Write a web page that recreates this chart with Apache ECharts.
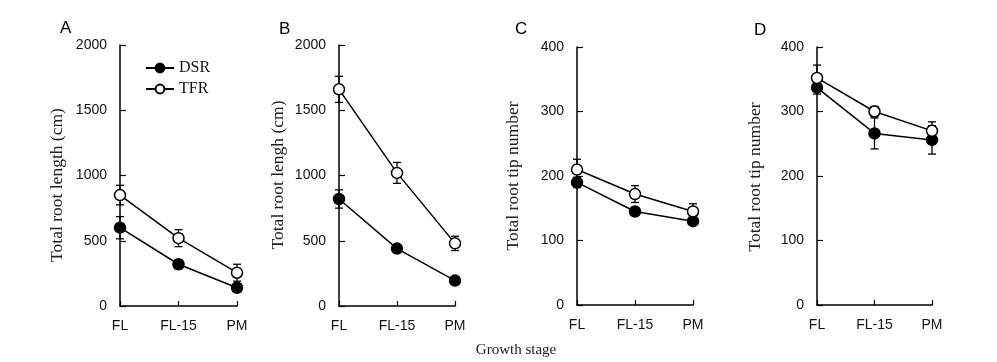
<!DOCTYPE html>
<html>
<head>
<meta charset="utf-8">
<script src="https://cdn.jsdelivr.net/npm/echarts@6/dist/echarts.min.js"></script>
<style>html,body{margin:0;padding:0;background:#fff}#c{width:997px;height:362px}</style>
</head>
<body>
<div id="c"></div>
<script>
const categories = ['FL', 'FL-15', 'PM'];
const seriesNames = ['DSR', 'TFR'];

const A_DSR = [600, 320, 140];
const A_DSR_err = [85, 35, 30];
const A_TFR = [850, 520, 255];
const A_TFR_err = [75, 65, 65];

const B_DSR = [820, 440, 195];
const B_DSR_err = [70, 30, 20];
const B_TFR = [1660, 1020, 480];
const B_TFR_err = [100, 80, 55];

const C_DSR = [190, 145, 130];
const C_DSR_err = [8, 6, 5];
const C_TFR = [210, 172, 145];
const C_TFR_err = [16, 13, 12];

const D_DSR = [337, 266, 256];
const D_DSR_err = [10, 24, 22];
const D_TFR = [352, 300, 270];
const D_TFR_err = [20, 8, 14];

const panelLetters = ['A', 'B', 'C', 'D'];
const yTitles = ['Total root length (cm)', 'Total root lengh (cm)', 'Total root tip number', 'Total root tip number'];
const yMax = [2000, 2000, 400, 400];
const yInterval = [500, 500, 100, 100];
const xTitle = 'Growth stage';

const panels = [
  {dsr: A_DSR, dsrErr: A_DSR_err, tfr: A_TFR, tfrErr: A_TFR_err},
  {dsr: B_DSR, dsrErr: B_DSR_err, tfr: B_TFR, tfrErr: B_TFR_err},
  {dsr: C_DSR, dsrErr: C_DSR_err, tfr: C_TFR, tfrErr: C_TFR_err},
  {dsr: D_DSR, dsrErr: D_DSR_err, tfr: D_TFR, tfrErr: D_TFR_err}
];

const grids = [
  {left: 120, top: 45, width: 117, height: 261},
  {left: 339, top: 45, width: 116, height: 261},
  {left: 577, top: 47, width: 116, height: 258},
  {left: 817, top: 47, width: 115, height: 258}
];
const letterPos = [[66, 29], [285, 30], [521, 30], [760, 31]];
const titlePos = [[57, 185], [278, 175], [513, 176], [755, 177]];

const chart = echarts.init(document.getElementById('c'), null, {renderer: 'canvas'});

const xAxes = [], yAxes = [], series = [], graphics = [];
const axisLineStyle = {color: '#000', width: 1.5};
const sans = 'Liberation Sans';
const serif = 'Liberation Serif';

function errRender(params, api) {
  const x = api.value(0);
  const lo = api.coord([x, api.value(1)]);
  const hi = api.coord([x, api.value(2)]);
  const cap = 4;
  const style = {stroke: '#000', lineWidth: 1.3, fill: null};
  return {
    type: 'group',
    children: [
      {type: 'line', shape: {x1: lo[0], y1: lo[1], x2: hi[0], y2: hi[1]}, style: style},
      {type: 'line', shape: {x1: lo[0] - cap, y1: lo[1], x2: lo[0] + cap, y2: lo[1]}, style: style},
      {type: 'line', shape: {x1: hi[0] - cap, y1: hi[1], x2: hi[0] + cap, y2: hi[1]}, style: style}
    ]
  };
}

panels.forEach((p, i) => {
  xAxes.push({
    gridIndex: i, type: 'category', data: categories, boundaryGap: false,
    axisLine: {lineStyle: axisLineStyle},
    axisTick: {inside: true, length: 5, lineStyle: {color: '#000', width: 1.2}},
    axisLabel: {color: '#111', fontFamily: sans, fontSize: 14, margin: 13},
    splitLine: {show: false}
  });
  yAxes.push({
    gridIndex: i, type: 'value', min: 0, max: yMax[i], interval: yInterval[i],
    axisLine: {show: true, lineStyle: axisLineStyle},
    axisTick: {show: true, inside: true, length: 6, lineStyle: {color: '#000', width: 1.2}},
    axisLabel: {color: '#111', fontFamily: sans, fontSize: 14, margin: 13, formatter: v => String(v)},
    splitLine: {show: false}
  });
  const sets = [
    {name: 'DSR', v: p.dsr, e: p.dsrErr, fill: '#000'},
    {name: 'TFR', v: p.tfr, e: p.tfrErr, fill: '#fff'}
  ];
  sets.forEach(s => {
    series.push({
      type: 'custom', xAxisIndex: i, yAxisIndex: i, silent: true, clip: false,
      renderItem: errRender, encode: {x: 0, y: [1, 2]},
      data: s.v.map((v, k) => [k, v - s.e[k], v + s.e[k]]),
      z: 2
    });
  });
  sets.forEach(s => {
    series.push({
      name: s.name, type: 'line', xAxisIndex: i, yAxisIndex: i, clip: false,
      data: s.v, symbol: 'circle', symbolSize: 11, showSymbol: true,
      lineStyle: {color: '#000', width: 1.5},
      itemStyle: {color: s.fill, borderColor: '#000', borderWidth: 1.5},
      z: 3, animation: false
    });
  });
  graphics.push({
    type: 'text', left: letterPos[i][0] - 6, top: letterPos[i][1] - 9,
    style: {text: panelLetters[i], font: '17px "Liberation Sans"', fill: '#000'}
  });
  graphics.push({
    type: 'text', x: titlePos[i][0], y: titlePos[i][1], rotation: Math.PI / 2,
    style: {text: yTitles[i], font: '17.5px "Liberation Serif"', fill: '#222', textAlign: 'center', textVerticalAlign: 'middle'}
  });
});

graphics.push({
  type: 'text', x: 516, y: 350,
  style: {text: xTitle, font: '15px "Liberation Serif"', fill: '#222', textAlign: 'center', textVerticalAlign: 'middle'}
});

chart.setOption({
  backgroundColor: '#fff',
  animation: false,
  grid: grids,
  xAxis: xAxes,
  yAxis: yAxes,
  legend: {
    data: seriesNames, orient: 'vertical', left: 140, top: 55,
    itemWidth: 28, itemHeight: 11, itemGap: 5,
    textStyle: {fontFamily: serif, fontSize: 16, color: '#111'},
    selectedMode: false
  },
  series: series,
  graphic: graphics
});
</script>
</body>
</html>
